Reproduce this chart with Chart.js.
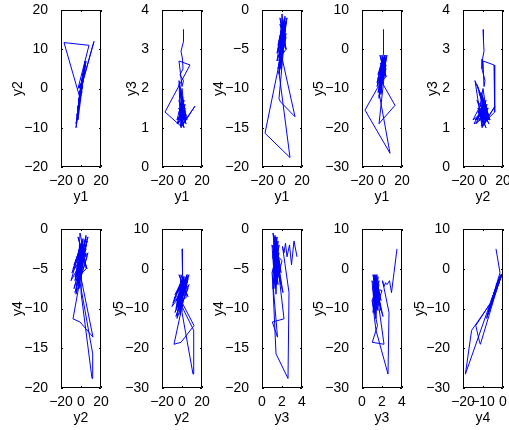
<!DOCTYPE html>
<html>
<head>
<meta charset="utf-8">
<script src="https://cdn.jsdelivr.net/npm/chart.js@4/dist/chart.umd.min.js"></script>
<style>
  body { margin: 0; background: #fff; width: 509px; height: 430px; position: relative; overflow: hidden; }
  canvas { position: absolute; }
</style>
</head>
<body>
<script>
// five measured series, one value per time step
const y1 = [1.5, 1.5, -1, 0.5, 1, -2, 1.5, 0, -3, 8, -17, -1.5, 4,
  2, -3, 4, -1, 3, -4, 1, -2, 5, -3, 2, 0, -5, 3, -1,
  13, -1.5, -3,
  4, -2, 1, -4, 3, 0, -2, 2, -1, 4, -3, 1, -5, 3, 0, -2, 2, -1, 3, -3, 1, -2, 4, 0, -1, 2, -3, 1, 0, -1,
  1, -2, 3, -1, 2, -3, 0, 4, -2, 1, -4, 2, -1, 3, 0, -3, 2, -1, 1, 0];
const y2 = [0, 0.5, 1, -0.5, -1, 0.5, 2, 1, 0, 11, 11.7, -2, 5,
  3, -5, 6, -2, 4, -7, 1, -3, 7, -6, 2, 0, -10, 5, -1,
  12, -1, -8,
  6, -4, 2, -8, 4, -1, -3, 3, -2, 7, -5, 1, -9, 4, 0, -4, 3, -2, 5, -6, 2, -3, 6, 0, -2, 3, -5, 1, -1, -2,
  2, -4, 5, -1, 3, -6, -1, 6, -3, 2, -7, 4, -2, 5, 1, -5, 3, -2, 2, 1];
const y3 = [3.5, 3.2, 2.95, 2.75, 2.5, 2.35, 2.2, 2.05, 2.7, 2.6, 1.4, 1.05, 1.2,
  1.3, 1.5, 1.2, 1.8, 1.4, 1.1, 1.6, 1.3, 1.2, 2.1, 1.4, 1.7, 1.2, 1.5, 1.0,
  1.55, 1.03, 2.2,
  1.3, 1.9, 1.4, 1.2, 1.6, 1.1, 1.5, 1.3, 1.8, 1.2, 1.4, 1.6, 1.1, 1.3, 2.0, 1.4, 1.2, 1.5, 1.3, 1.7, 1.1, 1.4, 1.2, 1.6, 1.3, 1.0, 1.5, 1.2, 1.4, 1.3,
  1.4, 1.2, 1.5, 1.3, 1.7, 1.2, 1.4, 1.1, 1.6, 1.3, 1.2, 1.5, 1.9, 1.3, 1.1, 1.4, 1.2, 1.6, 1.3, 1.2];
const y4 = [-3.5, -1.5, -4.5, -2, -3.5, -1.8, -3, -2.2, -8, -18.8, -15.7, -6, -5,
  -3, -6, -1.5, -5, -2.5, -7.5, -4, -3.5, -1, -8, -4.5, -2, -6.5, -3, -5.5,
  -13.6, -11.7, -11.3,
  -1.5, -7, -2.5, -5, -3.5, -0.5, -6, -2, -4.5, -3, -8.2, -1.5, -5.5, -3, -4, -7, -2, -4.5, -2.5, -6, -3.5, -1, -5, -3, -7.5, -2, -4, -1.5, -3.5, -2.5,
  -2.5, -5, -1, -4, -3, -6.5, -2, -3.5, -7, -1.5, -4.5, -2.5, -5.5, -0.8, -3.5, -6, -2, -4, -1.2, -3];
const y5 = [5, -1, -6, -3, -4, -3.5, -4.5, -3, -11, -26.5, -15.5, -8.5, -7,
  -4, -8.5, -2, -7, -3.5, -11, -6, -5, -1.5, -12, -6, -3, -9.5, -4.5, -8,
  -14.3, -18.5, -19,
  -2.5, -10.5, -3, -7.5, -5.5, -1.5, -9, -2.5, -6.5, -4, -12.5, -2, -8.5, -5, -5.5, -10, -3.5, -7, -4, -8, -5, -1.5, -7, -4.5, -11.5, -3, -6, -2.5, -5, -4,
  -3.5, -7.5, -1.5, -6, -4, -10, -3, -5, -10.5, -2, -6.5, -3.5, -8, -1.5, -5, -9, -3, -6, -2, -4.5];

const series = { y1, y2, y3, y4, y5 };

// which pair goes in each panel: [x name, y name]
const pairs = [
  ['y1', 'y2'], ['y1', 'y3'], ['y1', 'y4'], ['y1', 'y5'], ['y2', 'y3'],
  ['y2', 'y4'], ['y2', 'y5'], ['y3', 'y4'], ['y3', 'y5'], ['y4', 'y5']
];

// axis limits and tick steps per variable
const limits = {
  y1: { min: -20, max: 20, xStep: 20, yStep: 10 },
  y2: { min: -20, max: 20, xStep: 20, yStep: 10 },
  y3: { min: 0, max: 4, xStep: 2, yStep: 1 },
  y4: { min: -20, max: 0, xStep: 10, yStep: 5 },
  y5: { min: -30, max: 10, xStep: 10, yStep: 10 }
};

const colLeft = [61, 162, 262, 362, 463];
const rowTop = [10, 229];
const boxW = 40, boxH = 157;
const padL = 60, padT = 10, padR = 14, padB = 45;
const FONT = "'Liberation Sans', Arial, Helvetica, sans-serif";
const FSIZE = 14;

function fmt(v) {
  return v < 0 ? '\u2212' + Math.abs(v) : String(v);
}

// black box with small inward ticks on all four sides
const boxPlugin = {
  id: 'box',
  afterDraw(chart) {
    const { ctx, chartArea: a, scales } = chart;
    const t = 2;
    ctx.save();
    ctx.strokeStyle = '#000';
    ctx.lineWidth = 1;
    ctx.beginPath();
    ctx.rect(a.left + 0.5, a.top + 0.5, a.right - a.left - 1, a.bottom - a.top - 1);
    scales.x.ticks.forEach(function (tk) {
      const px = Math.round(scales.x.getPixelForValue(tk.value)) + 0.5;
      ctx.moveTo(px, a.bottom); ctx.lineTo(px, a.bottom - t);
      ctx.moveTo(px, a.top); ctx.lineTo(px, a.top + t);
    });
    scales.y.ticks.forEach(function (tk) {
      const py = Math.round(scales.y.getPixelForValue(tk.value)) + 0.5;
      ctx.moveTo(a.left, py); ctx.lineTo(a.left + t, py);
      ctx.moveTo(a.right, py); ctx.lineTo(a.right - t, py);
    });
    ctx.stroke();
    ctx.restore();
  }
};

pairs.forEach(function (p, i) {
  const xn = p[0], yn = p[1];
  const col = i % 5, row = Math.floor(i / 5);
  const h = boxH + row * 2;
  const canvas = document.createElement('canvas');
  canvas.width = padL + boxW + padR;
  canvas.height = padT + h + padB;
  canvas.style.left = (colLeft[col] - padL) + 'px';
  canvas.style.top = (rowTop[row] - padT) + 'px';
  document.body.appendChild(canvas);

  const pts = series[xn].map(function (v, k) { return { x: v, y: series[yn][k] }; });
  const lx = limits[xn], ly = limits[yn];

  new Chart(canvas.getContext('2d'), {
    type: 'scatter',
    data: {
      datasets: [{
        data: pts,
        showLine: true,
        borderColor: '#0000ff',
        borderWidth: 1,
        pointRadius: 0,
        tension: 0
      }]
    },
    options: {
      responsive: false,
      animation: false,
      events: [],
      layout: { padding: { left: 0, top: padT, right: padR, bottom: 0 } },
      plugins: { legend: { display: false }, tooltip: { enabled: false } },
      scales: {
        x: {
          type: 'linear',
          min: lx.min, max: lx.max,
          grid: { display: false },
          border: { display: false },
          ticks: {
            stepSize: lx.xStep, autoSkip: false, maxRotation: 0, padding: -2,
            color: '#000', font: { family: FONT, size: FSIZE },
            callback: fmt
          },
          title: {
            display: true, text: xn, color: '#000',
            font: { family: FONT, size: FSIZE }, padding: { top: 0, bottom: 6 }
          },
          afterFit: function (s) { s.height = padB; s.paddingLeft = 0; s.paddingRight = 0; }
        },
        y: {
          type: 'linear',
          min: ly.min, max: ly.max,
          grid: { display: false },
          border: { display: false },
          ticks: {
            stepSize: ly.yStep, autoSkip: false, padding: 5,
            color: '#000', font: { family: FONT, size: FSIZE },
            callback: fmt
          },
          title: {
            display: true, text: yn, color: '#000',
            font: { family: FONT, size: FSIZE },
            padding: { top: yn === 'y3' ? 22 : 9, bottom: 0 }
          },
          afterFit: function (s) { s.width = padL; s.paddingTop = 0; s.paddingBottom = 0; }
        }
      }
    },
    plugins: [boxPlugin]
  });
});
</script>
</body>
</html>
